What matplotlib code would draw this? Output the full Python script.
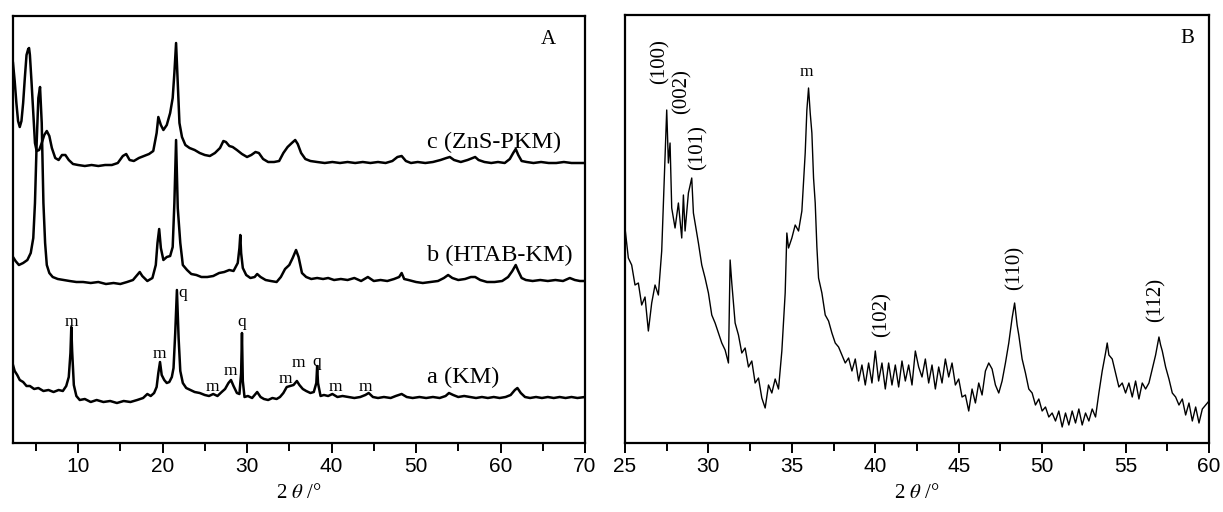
import matplotlib
matplotlib.use("Agg")
import matplotlib.pyplot as plt
from matplotlib.ticker import MultipleLocator

plt.rcParams['mathtext.fontset'] = 'stix'
SERIF = ['Liberation Serif', 'DejaVu Serif']
NARROW = ['Liberation Sans Narrow', 'Liberation Sans', 'DejaVu Sans']

# ---------------- panel A: three stacked patterns (a.u. offset) ----------------
a_x = [2.3, 2.5, 2.8, 3.1, 3.5, 3.9, 4.3, 4.8, 5.3, 5.9,
       6.5, 7.1, 7.7, 8.2, 8.6, 8.9, 9.1, 9.2, 9.3, 9.5,
       9.8, 10.2, 10.8, 11.5, 12.2, 13.0, 13.8, 14.6, 15.4, 16.2,
       17.0, 17.7, 18.2, 18.6, 19.0, 19.3, 19.5, 19.7, 19.9, 20.2,
       20.5, 20.8, 21.1, 21.3, 21.5, 21.7, 21.9, 22.1, 22.4, 22.8,
       23.3, 23.8, 24.4, 25.0, 25.5, 26.0, 26.5, 27.0, 27.4, 27.8,
       28.1, 28.4, 28.8, 29.1, 29.3, 29.4, 29.5, 29.7, 30.1, 30.6,
       31.2, 31.6, 32.0, 32.5, 33.0, 33.5, 33.9, 34.3, 34.7, 35.1,
       35.5, 35.9, 36.2, 36.6, 37.0, 37.5, 37.9, 38.2, 38.3, 38.4,
       38.7, 39.1, 39.6, 40.1, 40.7, 41.3, 42.0, 42.7, 43.4, 44.0,
       44.4, 44.9, 45.5, 46.2, 47.0, 47.6, 48.3, 48.9, 49.6, 50.4,
       51.2, 52.0, 52.8, 53.5, 53.9, 54.4, 55.0, 55.7, 56.4, 57.1,
       57.8, 58.5, 59.2, 59.9, 60.6, 61.2, 61.7, 62.0, 62.4, 62.9,
       63.5, 64.2, 64.9, 65.6, 66.3, 67.0, 67.7, 68.4, 69.1, 70.0]
a_y = [78, 72, 68, 63, 61, 57, 57, 54, 55, 52,
       53, 51, 53, 52, 57, 66, 90, 116, 92, 58,
       47, 43, 44, 41, 43, 41, 42, 40, 42, 41,
       43, 45, 49, 47, 50, 56, 70, 81, 68, 63,
       60, 61, 66, 75, 110, 153, 105, 72, 60, 55,
       53, 51, 50, 48, 47, 49, 47, 51, 54, 60,
       63, 57, 50, 49, 70, 110, 62, 46, 47, 45,
       51, 46, 44, 43, 45, 44, 46, 50, 56, 57,
       58, 62, 58, 54, 52, 50, 51, 60, 77, 60,
       47, 48, 47, 49, 46, 47, 46, 45, 46, 48,
       50, 46, 45, 46, 45, 47, 49, 46, 45, 46,
       45, 46, 45, 47, 50, 48, 46, 47, 46, 45,
       46, 45, 46, 45, 46, 48, 53, 55, 50, 46,
       45, 46, 45, 46, 45, 46, 45, 46, 45, 46]

b_x = [2.3, 2.6, 3.0, 3.5, 4.0, 4.4, 4.7, 4.9, 5.1, 5.3,
       5.5, 5.7, 5.9, 6.1, 6.3, 6.6, 7.0, 7.6, 8.3, 9.0,
       9.8, 10.6, 11.5, 12.4, 13.3, 14.2, 15.0, 15.8, 16.5, 17.0,
       17.3, 17.6, 18.2, 18.8, 19.2, 19.4, 19.6, 19.8, 20.1, 20.5,
       20.9, 21.2, 21.4, 21.6, 21.8, 22.1, 22.4, 22.9, 23.4, 24.0,
       24.6, 25.3, 26.0, 26.7, 27.3, 27.9, 28.4, 28.9, 29.1, 29.2,
       29.3, 29.5, 29.9, 30.4, 30.9, 31.2, 31.6, 32.2, 32.8, 33.5,
       34.0, 34.5, 35.0, 35.4, 35.8, 36.1, 36.5, 37.0, 37.6, 38.3,
       39.0, 39.6, 40.3, 41.1, 41.9, 42.7, 43.5, 44.3, 45.0, 45.8,
       46.6, 47.4, 48.0, 48.3, 48.6, 49.1, 50.0, 50.8, 51.7, 52.6,
       53.3, 53.8, 54.3, 55.0, 55.8, 56.5, 57.0, 57.6, 58.4, 59.3,
       60.2, 60.9, 61.4, 61.8, 62.1, 62.5, 63.0, 63.8, 64.7, 65.6,
       66.5, 67.4, 68.2, 68.8, 69.4, 70.0]
b_y = [186, 182, 178, 180, 183, 190, 205, 240, 300, 345,
       356, 320, 240, 200, 178, 170, 166, 164, 163, 162,
       161, 161, 160, 161, 159, 160, 159, 161, 163, 168,
       171, 167, 162, 165, 178, 200, 214, 195, 183, 186,
       187, 196, 240, 303, 235, 200, 178, 173, 169, 168,
       166, 166, 167, 170, 171, 173, 172, 180, 195, 208,
       190, 175, 168, 165, 166, 169, 166, 163, 162, 161,
       166, 174, 178, 185, 193, 186, 170, 166, 164, 165,
       164, 165, 163, 164, 163, 165, 162, 166, 162, 163,
       162, 164, 166, 170, 164, 163, 161, 160, 161, 162,
       165, 168, 165, 163, 164, 166, 166, 163, 161, 161,
       162, 166, 172, 178, 172, 165, 163, 162, 163, 162,
       163, 162, 165, 163, 162, 162]

c_x = [2.3, 2.5, 2.7, 2.9, 3.1, 3.3, 3.5, 3.7, 3.9, 4.1,
       4.2, 4.3, 4.5, 4.7, 4.9, 5.1, 5.4, 5.7, 6.0, 6.3,
       6.6, 6.9, 7.3, 7.7, 8.1, 8.5, 8.9, 9.4, 10.0, 10.8,
       11.6, 12.4, 13.2, 14.0, 14.7, 15.3, 15.7, 16.1, 16.6, 17.2,
       17.8, 18.4, 18.9, 19.3, 19.5, 19.8, 20.1, 20.5, 20.9, 21.2,
       21.4, 21.6, 21.8, 22.0, 22.3, 22.7, 23.2, 23.8, 24.4, 25.0,
       25.6, 26.2, 26.8, 27.2, 27.5, 27.9, 28.3, 28.8, 29.4, 30.0,
       30.5, 31.0, 31.4, 31.9, 32.5, 33.2, 33.8, 34.3, 34.8, 35.3,
       35.7, 36.0, 36.4, 36.9, 37.5, 38.3, 39.2, 40.1, 41.0, 41.9,
       42.8, 43.7, 44.6, 45.5, 46.4, 47.2, 47.8, 48.3, 48.8, 49.4,
       50.2, 51.1, 52.0, 52.9, 53.6, 54.0, 54.5, 55.3, 56.1, 56.7,
       57.0, 57.4, 58.1, 58.9, 59.7, 60.5, 61.1, 61.5, 61.8, 62.1,
       62.5, 63.1, 63.9, 64.8, 65.7, 66.6, 67.5, 68.4, 69.2, 70.0]
c_y = [380, 362, 340, 322, 316, 322, 340, 365, 388, 394,
       395, 388, 360, 330, 300, 292, 293, 300, 308, 312,
       307, 295, 285, 283, 288, 288, 283, 279, 278, 277,
       278, 277, 278, 278, 280, 287, 289, 283, 282, 285,
       287, 289, 292, 310, 326, 318, 313, 318, 330, 345,
       370, 400, 360, 320, 306, 298, 295, 293, 290, 288,
       287, 290, 295, 302, 301, 297, 296, 293, 289, 286,
       288, 291, 290, 284, 281, 281, 282, 290, 296, 300,
       303, 299, 290, 284, 282, 281, 280, 281, 280, 281,
       280, 281, 280, 281, 280, 282, 286, 287, 282, 280,
       281, 280, 281, 283, 285, 286, 283, 281, 283, 285,
       286, 283, 281, 280, 281, 280, 284, 290, 294, 288,
       282, 281, 280, 281, 280, 280, 281, 280, 280, 280]

sample_labels = ['c (ZnS-PKM)', 'b (HTAB-KM)', 'a (KM)']
sample_label_y = [301, 188, 66]

# phase marks on pattern a: m = montmorillonite, q = quartz
mark_text = ['m', 'm', 'q', 'q', 'm', 'm', 'm', 'm', 'q', 'm', 'm']
mark_x = [9.2, 19.6, 22.4, 29.4, 25.9, 28.0, 34.5, 36.1, 38.3, 40.4, 44.0]
mark_y = [121, 89, 150, 121, 56, 72, 64, 80, 81, 56, 56]

# ---------------- panel B: ZnS-PKM, 25-60 deg ----------------
B_x = [25.0, 25.2, 25.4, 25.6, 25.8, 26.0, 26.2, 26.4, 26.6, 26.8,
       27.0, 27.2, 27.3, 27.4, 27.5, 27.6, 27.7, 27.8, 28.0, 28.2,
       28.4, 28.5, 28.6, 28.8, 29.0, 29.1, 29.2, 29.4, 29.6, 29.8,
       30.0, 30.2, 30.4, 30.6, 30.8, 31.0, 31.2, 31.3, 31.4, 31.6,
       31.8, 32.0, 32.2, 32.4, 32.6, 32.8, 33.0, 33.2, 33.4, 33.6,
       33.8, 34.0, 34.2, 34.4, 34.6, 34.7, 34.8, 35.0, 35.2, 35.4,
       35.6, 35.8, 35.9, 36.0, 36.1, 36.2, 36.3, 36.4, 36.5, 36.6,
       36.8, 37.0, 37.2, 37.4, 37.6, 37.8, 38.0, 38.2, 38.4, 38.6,
       38.8, 39.0, 39.2, 39.4, 39.6, 39.8, 40.0, 40.2, 40.4, 40.6,
       40.8, 41.0, 41.2, 41.4, 41.6, 41.8, 42.0, 42.2, 42.4, 42.6,
       42.8, 43.0, 43.2, 43.4, 43.6, 43.8, 44.0, 44.2, 44.4, 44.6,
       44.8, 45.0, 45.2, 45.4, 45.6, 45.8, 46.0, 46.2, 46.4, 46.6,
       46.8, 47.0, 47.2, 47.4, 47.6, 47.8, 48.0, 48.2, 48.35, 48.5,
       48.6, 48.8, 49.0, 49.2, 49.4, 49.6, 49.8, 50.0, 50.2, 50.4,
       50.6, 50.8, 51.0, 51.2, 51.4, 51.6, 51.8, 52.0, 52.2, 52.4,
       52.6, 52.8, 53.0, 53.2, 53.4, 53.6, 53.8, 53.9, 54.0, 54.2,
       54.4, 54.6, 54.8, 55.0, 55.2, 55.4, 55.6, 55.8, 56.0, 56.2,
       56.4, 56.6, 56.8, 57.0, 57.1, 57.2, 57.4, 57.6, 57.8, 58.0,
       58.2, 58.4, 58.6, 58.8, 59.0, 59.2, 59.4, 59.6, 59.8, 60.0]
B_y = [215, 185, 178, 158, 160, 138, 146, 112, 140, 158,
       148, 192, 240, 290, 333, 280, 300, 235, 215, 240,
       205, 248, 212, 250, 265, 230, 220, 200, 178, 165,
       150, 128, 120, 110, 100, 93, 80, 183, 160, 120,
       108, 90, 95, 76, 82, 60, 65, 45, 35, 58,
       50, 64, 54, 92, 150, 210, 195, 205, 218, 212,
       232, 290, 333, 355, 330, 310, 265, 240, 196, 165,
       150, 128, 122, 110, 100, 96, 88, 80, 85, 72,
       84, 62, 78, 58, 80, 60, 92, 62, 80, 54,
       80, 58, 78, 56, 82, 62, 78, 58, 92, 76,
       66, 84, 60, 78, 54, 76, 60, 84, 66, 80,
       58, 64, 46, 48, 32, 54, 40, 60, 48, 72,
       80, 74, 58, 50, 62, 80, 100, 125, 140, 118,
       108, 84, 70, 54, 50, 38, 44, 32, 36, 26,
       30, 22, 32, 16, 30, 18, 32, 20, 34, 18,
       30, 22, 34, 26, 50, 72, 90, 100, 88, 84,
       70, 56, 60, 50, 60, 46, 62, 44, 60, 54,
       60, 74, 88, 106, 98, 92, 76, 64, 50, 46,
       38, 44, 28, 40, 22, 36, 20, 34, 38, 42]

hkl_text = ['(100)', '(002)', '(101)', '(102)', '(110)', '(112)']
hkl_x = [27.1, 28.4, 29.4, 40.4, 48.4, 56.8]
hkl_y = [381, 351, 295, 128, 175, 143]


fig = plt.figure(figsize=(12.23, 5.12), dpi=100)
axA = fig.add_axes([13/1223, 69/512, 572/1223, 427/512])
axB = fig.add_axes([625/1223, 69/512, 584/1223, 428/512])


def style(ax, xlim, major, minor):
    ax.set_xlim(*xlim)
    ax.xaxis.set_major_locator(MultipleLocator(major))
    ax.xaxis.set_minor_locator(MultipleLocator(minor))
    ax.set_yticks([])
    for s in ax.spines.values():
        s.set_linewidth(1.6)
    ax.tick_params(axis='x', which='both', direction='out', width=1.4, pad=3)
    ax.tick_params(axis='x', which='major', length=7)
    ax.tick_params(axis='x', which='minor', length=6)
    ax.set_xlabel(r'2 $\theta$ /°', family=SERIF, fontsize=15, labelpad=6)


style(axA, (2.3, 70), 10, 5)
axA.set_ylim(0, 427)
axA.set_xticks([10, 20, 30, 40, 50, 60, 70])
for xs, ys in [(a_x, a_y), (b_x, b_y), (c_x, c_y)]:
    axA.plot(xs, ys, color='black', lw=1.8)
for lab, ly in zip(sample_labels, sample_label_y):
    axA.text(51.3, ly, lab, family=SERIF, fontsize=17.5, va='center', ha='left')
for t, mx, my in zip(mark_text, mark_x, mark_y):
    axA.text(mx, my, t, family=SERIF, fontsize=12.5, ha='center', va='center')
axA.text(65.7, 403, 'A', family=SERIF, fontsize=15, ha='center', va='center')

style(axB, (25, 60), 5, 2.5)
axB.set_ylim(0, 428)
axB.plot(B_x, B_y, color='black', lw=1.0)
for t, hx, hy in zip(hkl_text, hkl_x, hkl_y):
    axB.text(hx, hy, t, family=SERIF, fontsize=15, rotation=90,
             ha='center', va='center')
axB.text(35.9, 371, 'm', family=SERIF, fontsize=12.5, ha='center', va='center')
axB.text(58.7, 405, 'B', family=SERIF, fontsize=15, ha='center', va='center')

for ax in (axA, axB):
    for t in ax.get_xticklabels():
        t.set_family(NARROW)
        t.set_fontsize(15)

fig.savefig('out.png', dpi=100)
